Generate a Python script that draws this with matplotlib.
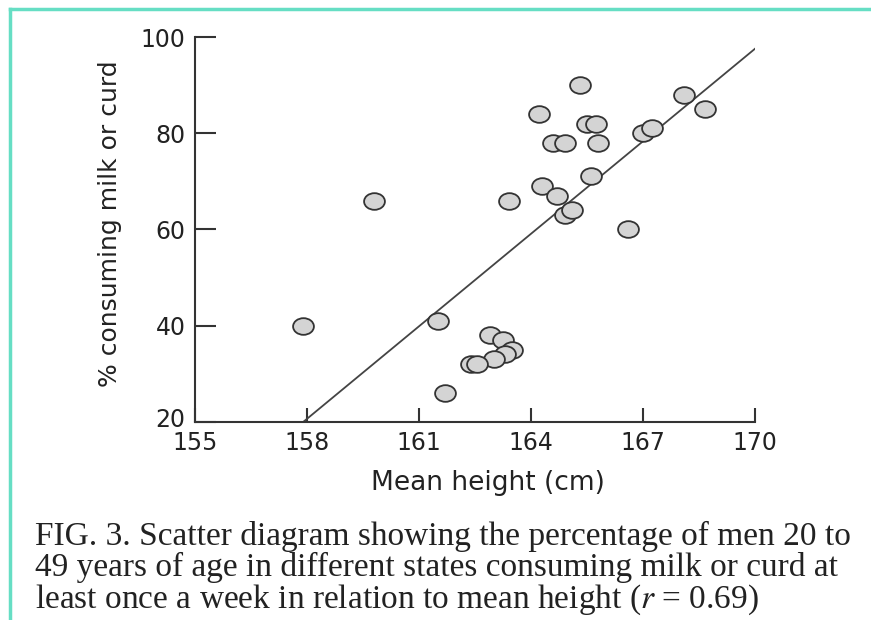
import numpy as np
import matplotlib.pyplot as plt
from matplotlib.path import Path
from matplotlib.transforms import Affine2D, ScaledTranslation
from matplotlib.lines import Line2D

plt.rcParams['mathtext.fontset'] = 'stix'

# data (mean height in cm, % consuming milk or curd)
height = [165.3, 164.2, 165.5, 165.75, 164.6, 164.9, 165.8, 167.0, 167.25, 168.1,
          168.65, 165.6, 164.3, 164.7, 163.4, 159.8, 164.9, 165.1, 166.6, 157.9,
          161.5, 161.7, 162.9, 163.25, 163.5, 163.3, 163.0, 162.4, 162.55]
milk = [90, 84, 82, 82, 78, 78, 78, 80, 81, 88,
        85, 71, 69, 67, 66, 66, 63, 64, 60, 40,
        41, 26, 38, 37, 35, 34, 33, 32, 32]
fit_x = [157.9, 170.1]
fit_y = [20, 98.2]

xticks = [155, 158, 161, 164, 167, 170]
yticks = [20, 40, 60, 80, 100]

caption = ("FIG. 3. Scatter diagram showing the percentage of men 20 to\n"
           "49 years of age in different states consuming milk or curd at\n"
           "least once a week in relation to mean height ($r$ = 0.69)")

fig = plt.figure(figsize=(8.71, 6.2), dpi=100)
ax = fig.add_axes([0.2242, 0.3198, 0.6426, 0.6205])

# slightly squashed circle marker, as in the scanned figure
oval = Path.unit_circle().transformed(Affine2D().scale(1.0, 0.8))

ax.plot(fit_x, fit_y, color='#444444', lw=1.3, zorder=2)
ax.plot(height, milk, ls='none', marker=oval, ms=15, mfc='#d4d4d4',
        mec='#333333', mew=1.3, zorder=3)

ax.set_xlim(155, 170)
ax.set_ylim(20, 100)
ax.set_xticks(xticks)
ax.set_yticks(yticks)
for s in ['top', 'right']:
    ax.spines[s].set_visible(False)
for s in ['left', 'bottom']:
    ax.spines[s].set_color('#333333')
    ax.spines[s].set_linewidth(1.5)
ax.tick_params(axis='x', direction='in', length=10, width=1.5, color='#333333',
               labelsize=17, pad=7, labelcolor='#222222')
ax.tick_params(axis='y', direction='in', length=15, width=1.5, color='#333333',
               labelsize=17, pad=7, labelcolor='#222222')
# nudge the "20" up a little so it clears "155"
lab20 = ax.yaxis.get_major_ticks()[0].label1
lab20.set_transform(lab20.get_transform() + ScaledTranslation(0, 3/72, fig.dpi_scale_trans))

ax.set_xlabel("Mean height (cm)", fontsize=19, color='#222222', va='center')
ax.xaxis.set_label_coords(0.523, -0.159)
ax.set_ylabel("% consuming milk or curd", fontsize=18, color='#222222', va='center')
ax.yaxis.set_label_coords(-0.152, 0.514)

fig.text(35/871, 1 - 521/620, caption, family='Liberation Serif', fontsize=24,
         va='top', ha='left', linespacing=0.98, color='#222222')

# teal frame along top and left edges
teal = '#66dec4'
fig.add_artist(Line2D([10/871, 1], [1 - 9/620, 1 - 9/620], color=teal, lw=2.5,
                      transform=fig.transFigure))
fig.add_artist(Line2D([10/871, 10/871], [0, 1 - 9/620], color=teal, lw=2.5,
                      transform=fig.transFigure))

fig.savefig("out.png", dpi=100)
